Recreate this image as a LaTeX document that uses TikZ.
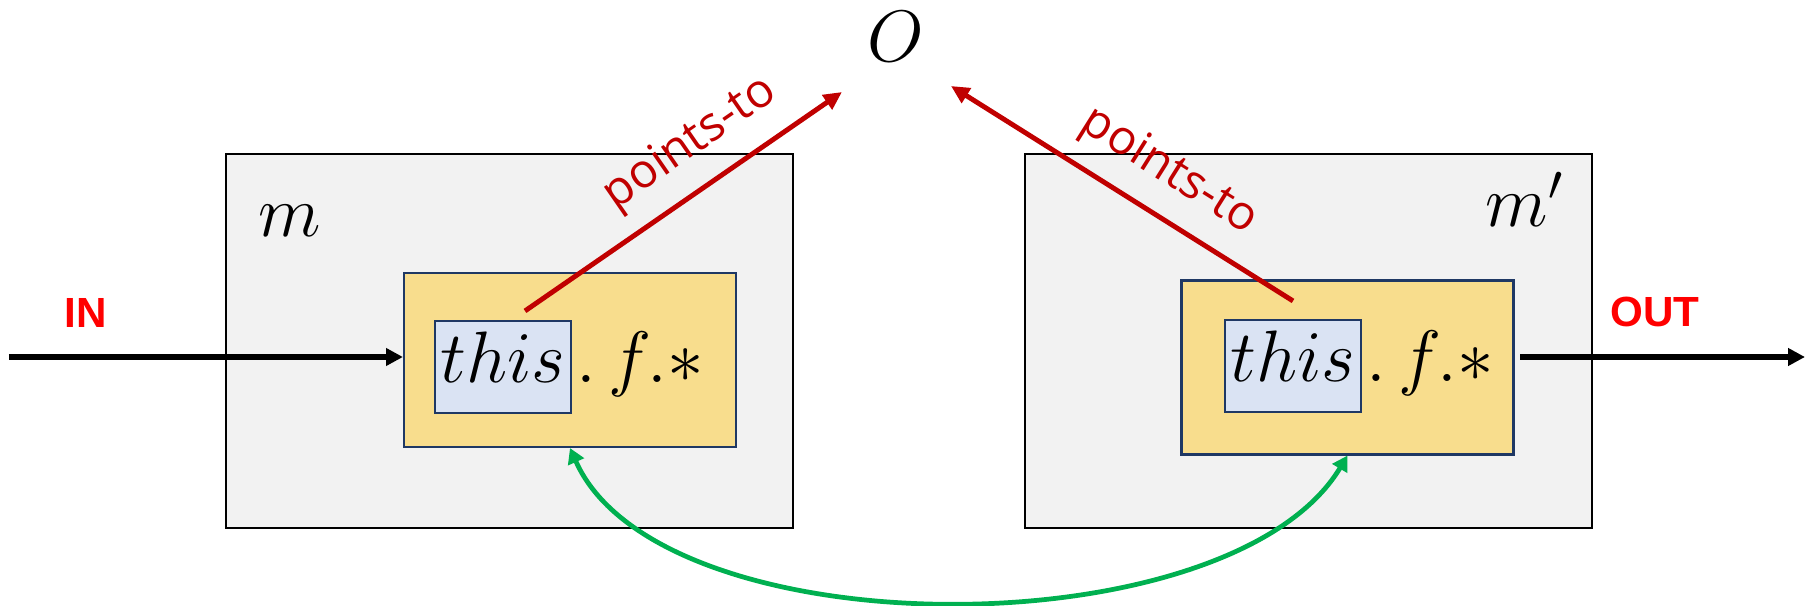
\documentclass[tikz,border=0pt]{standalone}
\usepackage{fontspec}
\usepackage{tikz}
\usetikzlibrary{positioning, arrows.meta, calc}
\newfontfamily\notefont{Open Sans}
\newfontfamily\tagfont{Liberation Sans}
\definecolor{BoxGray}{RGB}{242,242,242}
\definecolor{FieldGold}{RGB}{248,221,141}
\definecolor{FieldBlue}{RGB}{218,227,243}
\definecolor{FieldNavy}{RGB}{31,56,100}
\definecolor{PtRed}{RGB}{192,0,0}
\definecolor{IORed}{RGB}{255,0,0}
\definecolor{LinkGreen}{RGB}{0,176,80}

\begin{document}
\begin{tikzpicture}[
          mbox/.style={rectangle, draw=black, line width=0.5pt, fill=BoxGray,
                       minimum width=5.67cm, minimum height=3.74cm},
          pbox/.style={rectangle, draw=FieldNavy, line width=0.6pt,
                       fill=FieldGold, minimum width=3.32cm,
                       minimum height=1.74cm},
          vbox/.style={rectangle, draw=FieldNavy, line width=0.6pt,
                       fill=FieldBlue, minimum width=1.36cm,
                       minimum height=0.92cm, inner sep=0pt, text depth=0.2cm,
                       font=\fontsize{20.5}{24}\selectfont},
          rest/.style={anchor=base west, inner sep=0pt, xshift=1pt,
                       font=\fontsize{20.5}{24}\selectfont},
          mlbl/.style={font=\fontsize{22}{26}\selectfont, inner sep=0pt},
          io/.style={font=\tagfont\bfseries\fontsize{12}{14}\selectfont,
                     text=IORed},
          flow/.style={-{Triangle[length=4.8pt, width=4.8pt]},
                       line width=1.85pt},
          pts/.style={-{Triangle[length=5.2pt, width=4.8pt]}, draw=PtRed,
                      line width=1.4pt},
          ptlbl/.style={font=\notefont\fontsize{13.5}{16}\selectfont,
                        text=PtRed, sloped, inner sep=0pt},
          link/.style={{Triangle[length=4.3pt, width=4.8pt]}-{Triangle[length=4.3pt, width=4.8pt]},
                       draw=LinkGreen, line width=1.35pt}
        ]
        \useasboundingbox (0,0) rectangle (18.12,6.06);

        \node[mbox] (mL) at (5.095, 2.65) {};
        \node[mbox] (mR) at (13.085, 2.65) {};
        \node[mlbl, anchor=base west] (mLlbl) at (2.58, 3.69) {$m$};
        \node[mlbl, anchor=base west] (mRlbl) at (14.85, 3.79) {$m'$};
        \node[mlbl, anchor=base] (obj) at (8.96, 5.44) {$O$};

        \node[pbox] (pL) at (5.70, 2.46) {};
        \node[vbox] (thisL) at (5.03, 2.39) {$this$};
        \node[rest] (fL) at (thisL.base east) {$.\,f.*$};

        \node[pbox] (pR) at (13.475, 2.385) {};
        \node[vbox] (thisR) at (12.93, 2.40) {$this$};
        \node[rest] (fR) at (thisR.base east) {$.\,f.*$};

        \node[io] (in) at (0.86, 2.93) {IN};
        \node[io] (out) at (16.55, 2.94) {OUT};

        \coordinate (inStart) at (0.09, 2.49);
        \coordinate (outStart) at (15.20, 2.49);
        \coordinate (outEnd) at (18.05, 2.49);
        \draw[flow] (inStart) -- (inStart -| pL.west);
        \draw[flow] (outStart) -- (outEnd);

        \coordinate (tipL) at (8.42, 5.14);
        \coordinate (tipR) at (9.51, 5.20);
        \draw[pts] ($(thisL.north)+(0.22,0.09)$) -- (tipL)
              node[ptlbl, pos=0.6, above=5pt] {points-to};
        \draw[pts] ($(thisR.north)+(0,0.18)$) -- (tipR)
              node[ptlbl, pos=0.43, above=5pt] {points-to};

        \draw[link] (pL.south) .. controls (6.60,-0.45) and (12.30,-0.45)
              .. (pR.south);
      \end{tikzpicture}
\end{document}
